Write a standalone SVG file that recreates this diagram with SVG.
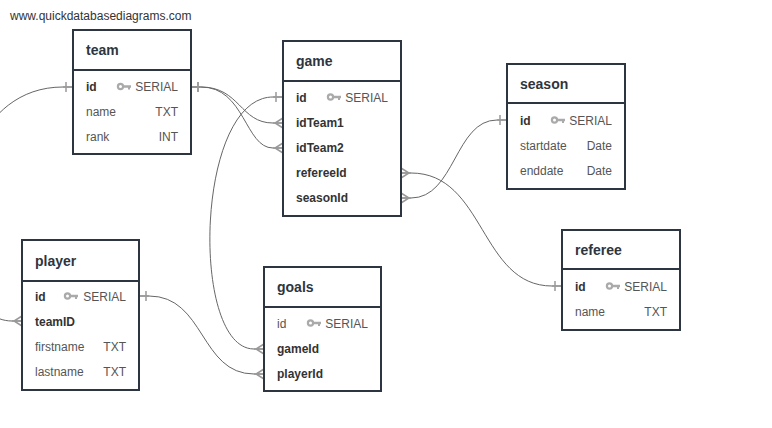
<svg xmlns="http://www.w3.org/2000/svg" width="772" height="428" viewBox="0 0 772 428">
<style>
.box{fill:#fff;stroke:#2d3540;stroke-width:2}
.div{stroke:#2d3540;stroke-width:2}
.title{font-family:"Liberation Sans",Arial,sans-serif;font-size:14px;font-weight:bold;fill:#2d3540}
.k{font-family:"Liberation Sans",Arial,sans-serif;font-size:12px;font-weight:bold;fill:#333}
.c{font-family:"Liberation Sans",Arial,sans-serif;font-size:12px;fill:#555}
.t{font-family:"Liberation Sans",Arial,sans-serif;font-size:12px;fill:#555;text-anchor:end}
.wm{font-family:"Liberation Sans",Arial,sans-serif;font-size:12px;fill:#333}
.rel{fill:none;stroke:#666;stroke-width:1}
.mk{fill:none;stroke:#999;stroke-width:1.5}
</style>
<defs>
<marker id="one" markerUnits="userSpaceOnUse" markerWidth="20" markerHeight="20" refX="0" refY="0" orient="auto" overflow="visible">
<path class="mk" d="M0 0H10M7 -5V5"/>
</marker>
<marker id="many" markerUnits="userSpaceOnUse" markerWidth="20" markerHeight="20" refX="0" refY="0" orient="auto" overflow="visible">
<path class="mk" d="M-10 0H0M0 -5L-8 0L0 5"/>
</marker>
<g id="key">
<circle cx="3.5" cy="0" r="2.6" fill="none" stroke="#aaa" stroke-width="2.2"/>
<path d="M6 -1.2H14V1.2H13V3H11V1.2H6Z" fill="#aaa"/>
</g>
</defs>
<rect width="772" height="428" fill="#fff"/>
<text class="wm" x="10" y="20">www.quickdatabasediagrams.com</text>

<g id="connectors">
<path class="rel" marker-start="url(#one)" marker-end="url(#many)" d="M191 87H201C240 87 240 123 273 123H283"/>
<path class="rel" marker-start="url(#one)" marker-end="url(#many)" d="M191 87H201C245 87 245 148 273 148H283"/>
<path class="rel" marker-start="url(#one)" marker-end="url(#many)" d="M73 87H63C-65 87 -65 321 12 321H22"/>
<path class="rel" marker-start="url(#one)" marker-end="url(#many)" d="M283 97H273C195 97 190 349 254 349H264"/>
<path class="rel" marker-start="url(#one)" marker-end="url(#many)" d="M139 296H149C205 296 200 374 254 374H264"/>
<path class="rel" marker-start="url(#one)" marker-end="url(#many)" d="M507 120H497C455 120 455 198 411 198H401"/>
<path class="rel" marker-start="url(#one)" marker-end="url(#many)" d="M562 286H552C480 286 485 173 411 173H401"/>
</g>

<g id="team">
<rect class="box" x="73" y="30" width="118" height="124"/>
<line class="div" x1="73" y1="70" x2="191" y2="70"/>
<text class="title" x="86" y="55">team</text>
<text class="k" x="86" y="91">id</text><use href="#key" x="117" y="86.5"/><text class="t" x="178" y="91">SERIAL</text>
<text class="c" x="86" y="116">name</text><text class="t" x="178" y="116">TXT</text>
<text class="c" x="86" y="141">rank</text><text class="t" x="178" y="141">INT</text>
</g>

<g id="game">
<rect class="box" x="283" y="41" width="118" height="175"/>
<line class="div" x1="283" y1="81" x2="401" y2="81"/>
<text class="title" x="296" y="66">game</text>
<text class="k" x="296" y="101.5">id</text><use href="#key" x="327" y="97"/><text class="t" x="388" y="101.5">SERIAL</text>
<text class="k" x="296" y="127">idTeam1</text>
<text class="k" x="296" y="152">idTeam2</text>
<text class="k" x="296" y="177">refereeId</text>
<text class="k" x="296" y="202">seasonId</text>
</g>

<g id="season">
<rect class="box" x="507" y="64" width="118" height="125"/>
<line class="div" x1="507" y1="103" x2="625" y2="103"/>
<text class="title" x="520" y="89">season</text>
<text class="k" x="520" y="124.5">id</text><use href="#key" x="551" y="120"/><text class="t" x="612" y="124.5">SERIAL</text>
<text class="c" x="520" y="149.5">startdate</text><text class="t" x="612" y="149.5">Date</text>
<text class="c" x="520" y="174.5">enddate</text><text class="t" x="612" y="174.5">Date</text>
</g>

<g id="player">
<rect class="box" x="22" y="240" width="117" height="150"/>
<line class="div" x1="22" y1="281" x2="139" y2="281"/>
<text class="title" x="35" y="266">player</text>
<text class="k" x="35" y="300.5">id</text><use href="#key" x="64" y="296"/><text class="t" x="126" y="300.5">SERIAL</text>
<text class="k" x="35" y="325.5">teamID</text>
<text class="c" x="35" y="351">firstname</text><text class="t" x="126" y="351">TXT</text>
<text class="c" x="35" y="376">lastname</text><text class="t" x="126" y="376">TXT</text>
</g>

<g id="goals">
<rect class="box" x="264" y="267" width="117" height="124"/>
<line class="div" x1="264" y1="307" x2="381" y2="307"/>
<text class="title" x="277" y="292">goals</text>
<text class="c" x="277" y="327.5">id</text><use href="#key" x="307" y="323"/><text class="t" x="368" y="327.5">SERIAL</text>
<text class="k" x="277" y="353">gameId</text>
<text class="k" x="277" y="378">playerId</text>
</g>

<g id="referee">
<rect class="box" x="562" y="230" width="118" height="100"/>
<line class="div" x1="562" y1="269" x2="680" y2="269"/>
<text class="title" x="575" y="255">referee</text>
<text class="k" x="575" y="290.5">id</text><use href="#key" x="606" y="286"/><text class="t" x="667" y="290.5">SERIAL</text>
<text class="c" x="575" y="315.5">name</text><text class="t" x="667" y="315.5">TXT</text>
</g>
</svg>
